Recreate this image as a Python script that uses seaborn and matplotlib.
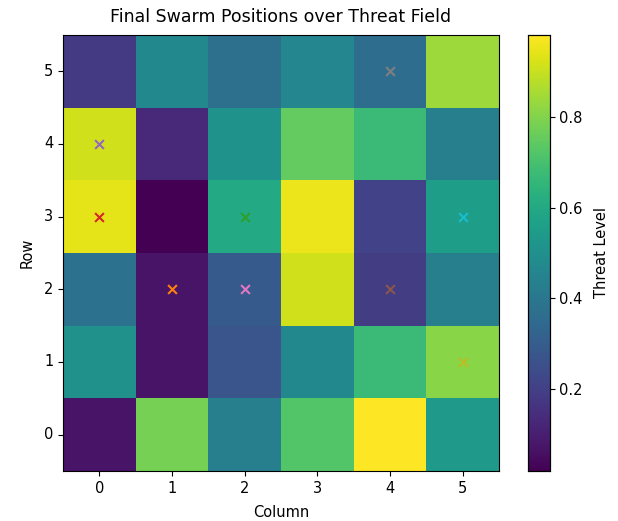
import numpy as np
import matplotlib
matplotlib.use("Agg")
import matplotlib.pyplot as plt
import seaborn as sns

# Threat field, row 0 at the bottom
threat_rows = [
    [0.07, 0.78, 0.43, 0.72, 0.98, 0.54],  # row 0
    [0.50, 0.07, 0.27, 0.47, 0.67, 0.81],  # row 1
    [0.38, 0.07, 0.29, 0.91, 0.19, 0.43],  # row 2
    [0.94, 0.02, 0.60, 0.95, 0.21, 0.55],  # row 3
    [0.91, 0.13, 0.51, 0.75, 0.67, 0.43],  # row 4
    [0.18, 0.47, 0.37, 0.46, 0.36, 0.84],  # row 5
]

# Final agent positions (column, row) and their tab10 colour slots
agent_cols = [1, 2, 0, 0, 4, 2, 4, 5, 5]
agent_rows = [2, 3, 3, 4, 2, 2, 5, 1, 3]
agent_color_idx = [1, 2, 3, 4, 5, 6, 7, 8, 9]

col_labels = [0, 1, 2, 3, 4, 5]
row_labels = [0, 1, 2, 3, 4, 5]

fig = plt.figure(figsize=(6.18, 5.21), dpi=100)
ax = fig.add_axes([0.102, 0.096, 0.7055, 0.837])
cax = fig.add_axes([0.854, 0.096, 0.0356, 0.837])

field = np.array(threat_rows)
sns.heatmap(field, ax=ax, cmap="viridis", cbar_ax=cax,
            xticklabels=col_labels, yticklabels=row_labels)
cax.set_ylabel("Threat Level", fontsize=10.5, labelpad=8)
ax.invert_yaxis()
ax.set_aspect("equal")
for s in ax.spines.values():
    s.set_visible(True)
    s.set_linewidth(0.8)
for s in cax.spines.values():
    s.set_visible(True)
    s.set_linewidth(0.8)
cax.tick_params(length=3.5, width=0.8, labelsize=10.5)

palette = sns.color_palette("tab10", 10)
for c, r, k in zip(agent_cols, agent_rows, agent_color_idx):
    ax.scatter(c + 0.5, r + 0.5, marker="x", color=palette[k], s=40, zorder=3)

ax.tick_params(axis="both", length=3.5, width=0.8, labelsize=10.5)
plt.setp(ax.get_yticklabels(), rotation=0)
plt.setp(ax.get_xticklabels(), rotation=0)
ax.set_xlabel("Column", fontsize=10.5, labelpad=7)
ax.set_ylabel("Row", fontsize=10.5, labelpad=7)
ax.set_title("Final Swarm Positions over Threat Field", fontsize=12.5, pad=9)

fig.savefig("out.png", dpi=100)
